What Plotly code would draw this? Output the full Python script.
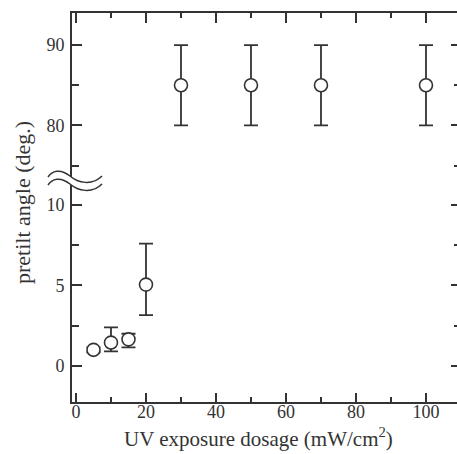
import plotly.graph_objects as go

# ---- data ----
dose_low = [5, 10, 15, 20]
angle_low = [1.0, 1.45, 1.65, 5.05]
err_low_plus = [0.15, 0.95, 0.35, 2.55]
err_low_minus = [0.15, 0.55, 0.5, 1.9]

dose_high = [30, 50, 70, 100]
angle_high = [85, 85, 85, 85]
err_high = [5, 5, 5, 5]

x_ticks = [0, 20, 40, 60, 80, 100]
y_low_ticks = [0, 5, 10]
y_high_ticks = [80, 90]

# ---- style ----
INK = "#333333"
FONT = "Liberation Serif"
W, H = 457, 454
ML, MR, MT, MB = 72, 0, 13, 52
PW = W - ML - MR
PH = H - MT - MB
BREAK_PX = 179  # pixel row of the axis break
split = (H - MB - BREAK_PX) / PH

marker = dict(symbol="circle", size=13, color="white", line=dict(color=INK, width=1.6))

fig = go.Figure()
fig.add_trace(go.Scatter(
    x=dose_low, y=angle_low, mode="markers", marker=marker,
    error_y=dict(type="data", symmetric=False, array=err_low_plus, arrayminus=err_low_minus,
                 color=INK, thickness=1.8, width=7),
    xaxis="x", yaxis="y", showlegend=False))
fig.add_trace(go.Scatter(
    x=dose_high, y=angle_high, mode="markers", marker=marker,
    error_y=dict(type="data", array=err_high, color=INK, thickness=1.8, width=7),
    xaxis="x2", yaxis="y2", showlegend=False))
# empty traces so the right-hand tick-only axes are drawn
fig.add_trace(go.Scatter(x=[], y=[], xaxis="x", yaxis="y3", showlegend=False, hoverinfo="skip"))
fig.add_trace(go.Scatter(x=[], y=[], xaxis="x2", yaxis="y4", showlegend=False, hoverinfo="skip"))

axis_common = dict(showline=True, linecolor=INK, linewidth=1.6, ticks="inside",
                   tickcolor=INK, tickwidth=1.6, showgrid=False, zeroline=False,
                   tickfont=dict(family=FONT, size=18, color=INK))
xr = [-1.14, 108.86]
yr_low = [-2.24, 11.61]
yr_high = [73.33, 94.0]
fig.update_layout(
    width=W, height=H, margin=dict(l=ML, r=MR, t=MT, b=MB),
    paper_bgcolor="white", plot_bgcolor="white",
    xaxis=dict(axis_common, range=xr, tickvals=x_ticks, ticklen=9, anchor="y", domain=[0, 1],
               ticklabelstandoff=-7,
               minor=dict(dtick=10, tick0=0, ticklen=5, tickcolor=INK, tickwidth=1.6, ticks="inside")),
    xaxis2=dict(axis_common, range=xr, tickvals=x_ticks, ticklen=10, anchor="y2", side="top",
                showticklabels=False, domain=[0, 1],
                minor=dict(dtick=10, tick0=0, ticklen=5, tickcolor=INK, tickwidth=1.6, ticks="inside")),
    yaxis=dict(axis_common, range=yr_low, domain=[0, split], anchor="x",
               tickvals=y_low_ticks, ticklen=10, ticklabelstandoff=2,
               minor=dict(dtick=2.5, tick0=0, ticklen=7, tickcolor=INK, tickwidth=1.6, ticks="inside")),
    yaxis2=dict(axis_common, range=yr_high, domain=[split, 1], anchor="x2",
                tickvals=y_high_ticks, ticklen=10, ticklabelstandoff=2,
                minor=dict(dtick=5, tick0=0, ticklen=7, tickcolor=INK, tickwidth=1.6, ticks="inside")),
    yaxis3=dict(axis_common, showline=False, range=yr_low, domain=[0, split], anchor="x",
                overlaying="y", side="right", tickvals=y_low_ticks, ticklen=6,
                showticklabels=False,
                minor=dict(dtick=2.5, tick0=0, ticklen=3, tickcolor=INK, tickwidth=1.6, ticks="inside")),
    yaxis4=dict(axis_common, showline=False, range=yr_high, domain=[split, 1], anchor="x2",
                overlaying="y2", side="right", tickvals=y_high_ticks, ticklen=6,
                showticklabels=False,
                minor=dict(dtick=5, tick0=0, ticklen=3, tickcolor=INK, tickwidth=1.6, ticks="inside")),
)

# axis titles
fig.add_annotation(text="UV exposure dosage (mW/cm<sup>2</sup>)", xref="paper", yref="paper",
                   x=(258 - ML) / PW, y=(H - MB - 437) / PH, showarrow=False,
                   font=dict(family=FONT, size=21, color=INK), xanchor="center", yanchor="middle")
fig.add_annotation(text="pretilt angle (deg.)", xref="paper", yref="paper",
                   x=(22 - ML) / PW, y=(H - MB - 203) / PH, showarrow=False, textangle=-90,
                   font=dict(family=FONT, size=22, color=INK), xanchor="center", yanchor="middle")

# axis-break symbol (two waves)
def px(x, y):
    return f"{(x - ML) / PW:.5f},{(H - MB - y) / PH:.5f}"

def wave(dy):
    return [(48, 177 + dy), (52, 171 + dy), (60, 168 + dy), (70, 176 + dy),
            (78, 183 + dy), (92, 186 + dy), (102, 176 + dy)]

w1, w2 = wave(0), wave(8)
fill_path = ("M " + px(*w1[0]) + " C " + " ".join(px(*p) for p in w1[1:4]) + " C " +
             " ".join(px(*p) for p in w1[4:7]) + " L " + px(*w2[6]) + " C " +
             " ".join(px(*p) for p in [w2[5], w2[4], w2[3]]) + " C " +
             " ".join(px(*p) for p in [w2[2], w2[1], w2[0]]) + " Z")
fig.add_shape(type="path", path=fill_path, xref="paper", yref="paper",
              fillcolor="white", line=dict(width=0))
for w in (w1, w2):
    p = "M " + px(*w[0]) + " C " + " ".join(px(*q) for q in w[1:4]) + " C " + " ".join(px(*q) for q in w[4:7])
    fig.add_shape(type="path", path=p, xref="paper", yref="paper", line=dict(color=INK, width=1.5))

fig.write_html("out.html", config={"displayModeBar": False}, post_script=(
    "document.documentElement.style.overflow='hidden';"
    "document.body.style.overflow='hidden';document.body.style.margin='0';"))
